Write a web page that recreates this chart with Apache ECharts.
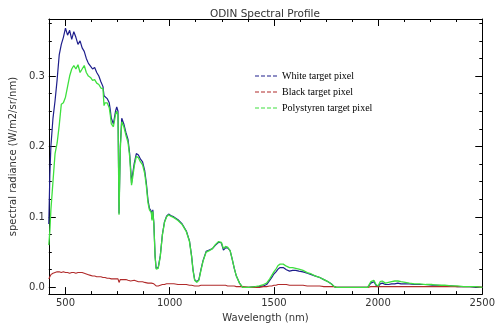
<!DOCTYPE html>
<html>
<head>
<meta charset="utf-8">
<script src="https://cdn.jsdelivr.net/npm/echarts@6/dist/echarts.min.js"></script>
<style>
html,body{margin:0;padding:0;background:#fff}
#chart{width:498px;height:328px}
</style>
</head>
<body>
<div id="chart"></div>
<script>
// wavelength grid (nm), shared by the three pixels
const wavelength = [
  420,425,430,440,450,460,470,480,490,500,510,520,530,540,550,560,570,580,590,600,
  610,620,630,640,650,660,670,680,685,690,700,710,715,720,730,740,746,752,
  757,763,770,780,790,800,808,813,817,822,830,840,850,860,870,880,888,896,903,912,915,919,924,930,935,
  945,955,965,975,985,995,1005,1020,1040,1060,1080,1095,1105,1112,1120,1130,
  1140,1150,1160,1175,1190,1205,1220,1235,1248,1258,1268,1278,1290,1300,1310,1320,1335,
  1350,1380,1410,1430,1450,1465,1480,1490,1500,1510,1520,1530,1545,1560,1575,1590,1605,1620,1640,1660,1680,1700,1720,1740,1760,1775,1790,1800,1810,
  1850,1900,1950,1965,1980,1990,2000,2010,2020,2035,2050,2065,2080,2095,2110,2130,2150,2175,2200,2230,2260,2290,2320,2350,2380,2410,2440,2470,2500
];
const whitePixel = [
  0.09,0.16,0.20,0.24,0.265,0.295,0.33,0.345,0.355,0.368,0.358,0.365,0.352,0.363,0.355,0.345,0.35,0.34,0.335,0.325,
  0.318,0.314,0.31,0.312,0.305,0.30,0.292,0.285,0.272,0.27,0.268,0.262,0.252,0.24,0.232,0.25,0.256,0.25,
  0.105,0.20,0.24,0.232,0.22,0.21,0.19,0.168,0.148,0.16,0.176,0.19,0.188,0.182,0.178,0.166,0.148,0.124,0.112,0.108,0.097,0.11,0.092,0.045,0.027,
  0.028,0.045,0.075,0.093,0.101,0.104,0.102,0.10,0.096,0.09,0.08,0.066,0.045,0.025,0.011,0.008,
  0.011,0.025,0.038,0.051,0.053,0.055,0.06,0.064,0.063,0.053,0.056,0.056,0.052,0.04,0.027,0.016,0.006,
  0,0,0.001,0.001,0.002,0.004,0.01,0.014,0.019,0.022,0.026,0.028,0.028,0.025,0.023,0.024,0.024,0.023,0.022,0.02,0.018,0.016,0.014,0.011,0.008,0.005,0.001,0,0,
  0,0,0,0.006,0.008,0.003,0.001,0.005,0.006,0.004,0.004,0.005,0.005,0.006,0.005,0.005,0.005,0.004,0.004,0.004,0.003,0.003,0.002,0.002,0.001,0.001,0.001,0,0
];
const blackPixel = [
  0.012,0.015,0.018,0.02,0.021,0.022,0.022,0.021,0.022,0.021,0.021,0.02,0.021,0.021,0.02,0.021,0.021,0.021,0.02,0.019,
  0.018,0.017,0.016,0.016,0.015,0.015,0.015,0.014,0.014,0.014,0.013,0.013,0.013,0.012,0.012,0.012,0.012,0.012,
  0.007,0.011,0.011,0.011,0.011,0.01,0.01,0.009,0.009,0.01,0.01,0.009,0.008,0.008,0.008,0.007,0.007,0.006,0.006,0.006,0.005,0.006,0.005,0.003,0.002,
  0.002,0.003,0.004,0.004,0.005,0.005,0.005,0.005,0.004,0.004,0.004,0.003,0.003,0.002,0.002,0.002,
  0.002,0.003,0.003,0.003,0.003,0.003,0.003,0.003,0.003,0.003,0.003,0.002,0.002,0.002,0.002,0.001,0.001,
  0.001,0,0,0,0.001,0.001,0.002,0.002,0.003,0.003,0.004,0.004,0.004,0.004,0.003,0.003,0.003,0.003,0.003,0.002,0.002,0.002,0.002,0.001,0.001,0.001,0.001,0,0,
  0,0,0,0.001,0.001,0.001,0.001,0.001,0.001,0.001,0.001,0.001,0.001,0.001,0.001,0.001,0.001,0.001,0.001,0.001,0.001,0.001,0.001,0.001,0.001,0.001,0.001,0.001,0
];
const polyPixel = [
  0.06,0.08,0.11,0.15,0.19,0.205,0.23,0.26,0.262,0.27,0.285,0.30,0.31,0.315,0.31,0.316,0.305,0.31,0.315,0.305,
  0.30,0.298,0.294,0.295,0.29,0.288,0.283,0.282,0.258,0.262,0.262,0.255,0.245,0.232,0.228,0.245,0.25,0.245,
  0.103,0.195,0.235,0.228,0.216,0.206,0.186,0.162,0.145,0.155,0.172,0.186,0.184,0.178,0.174,0.162,0.144,0.12,0.11,0.106,0.095,0.108,0.09,0.043,0.026,
  0.027,0.044,0.074,0.092,0.10,0.103,0.101,0.099,0.095,0.089,0.079,0.065,0.044,0.024,0.010,0.007,
  0.010,0.024,0.037,0.05,0.052,0.055,0.061,0.065,0.064,0.055,0.058,0.057,0.052,0.04,0.027,0.016,0.006,
  0,0,0.001,0.002,0.004,0.006,0.012,0.017,0.022,0.026,0.031,0.033,0.033,0.03,0.028,0.028,0.027,0.026,0.024,0.021,0.019,0.016,0.014,0.011,0.008,0.005,0.001,0,0,
  0,0,0,0.008,0.01,0.004,0.002,0.008,0.009,0.006,0.007,0.008,0.009,0.009,0.008,0.007,0.006,0.005,0.005,0.004,0.004,0.003,0.003,0.002,0.002,0.001,0.001,0.001,0
];

const xTicks = [500, 1000, 1500, 2000, 2500];
const xMinorTicks = [625, 750, 875, 1125, 1250, 1375, 1625, 1750, 1875, 2125, 2250, 2375];
const yTicks = [0, 0.1, 0.2, 0.3];
const yMinorTicks = [0.025, 0.05, 0.075, 0.125, 0.15, 0.175, 0.225, 0.25, 0.275, 0.325, 0.35, 0.375];

const pairs = (ys) => wavelength.map((w, i) => [w, ys[i]]);
const font = 'DejaVu Sans';
const dashIcon = 'path://M0,0h4v1h-4z M6,0h4v1h-4z M12,0h4v1h-4z M18,0h4v1h-4z';

function xAx(pos, ticks, len, withLabel, lineShown) {
  return {
    type: 'value', min: 420, max: 2500, position: pos,
    axisLine: {show: lineShown, onZero: false, lineStyle: {color: '#000', width: 1}},
    axisTick: {show: true, inside: true, length: len, customValues: ticks, lineStyle: {color: '#000'}},
    axisLabel: withLabel ? {customValues: ticks, color: '#333', fontSize: 10, fontFamily: font, margin: 4,
      formatter: (v) => String(v)} : {show: false},
    splitLine: {show: false}
  };
}
function yAx(pos, ticks, len, withLabel, lineShown) {
  return {
    type: 'value', min: -0.0096, max: 0.381, position: pos,
    axisLine: {show: lineShown, onZero: false, lineStyle: {color: '#000', width: 1}},
    axisTick: {show: true, inside: true, length: len, customValues: ticks, lineStyle: {color: '#000'}},
    axisLabel: withLabel ? {customValues: ticks, color: '#333', fontSize: 10, fontFamily: font, margin: 4,
      formatter: (v) => v.toFixed(1)} : {show: false},
    splitLine: {show: false}
  };
}

const xMain = xAx('bottom', xTicks, 7, true, true);
xMain.name = 'Wavelength (nm)';
xMain.nameLocation = 'middle';
xMain.nameGap = 16;
xMain.nameTextStyle = {color: '#333', fontSize: 10, fontFamily: font};

const yMain = yAx('left', yTicks, 7, true, true);
yMain.name = 'spectral radiance (W/m2/sr/nm)';
yMain.nameLocation = 'middle';
yMain.nameGap = 25;
yMain.nameTextStyle = {color: '#333', fontSize: 10, fontFamily: font};

const chart = echarts.init(document.getElementById('chart'));
chart.setOption({
  animation: false,
  backgroundColor: '#fff',
  title: {
    text: 'ODIN Spectral Profile', left: 205, top: 4,
    textStyle: {color: '#333', fontSize: 10.5, fontWeight: 'normal', fontFamily: font}
  },
  grid: {left: 46, right: 11, top: 19, bottom: 24},
  legend: {
    orient: 'vertical', left: 250, top: 63,
    icon: dashIcon, itemWidth: 22, itemHeight: 1.5, itemGap: 0,
    textStyle: {fontFamily: 'Liberation Serif', fontSize: 10, color: '#000', lineHeight: 16}
  },
  xAxis: [
    xMain,
    xAx('bottom', xMinorTicks, 3, false, false),
    xAx('top', xTicks, 7, false, true),
    xAx('top', xMinorTicks, 3, false, false)
  ],
  yAxis: [
    yMain,
    yAx('left', yMinorTicks, 3, false, false),
    yAx('right', yTicks, 7, false, true),
    yAx('right', yMinorTicks, 3, false, false)
  ],
  series: [
    {name: 'White target pixel', type: 'line', data: pairs(whitePixel), color: '#1e1e8c',
      showSymbol: false, lineStyle: {width: 1.2}, z: 2},
    {name: 'Black target pixel', type: 'line', data: pairs(blackPixel), color: '#b02a2a',
      showSymbol: false, lineStyle: {width: 1.1}, z: 3},
    {name: 'Polystyren target pixel', type: 'line', data: pairs(polyPixel), color: '#3ee03e',
      showSymbol: false, lineStyle: {width: 1.3}, z: 4}
  ]
});
</script>
</body>
</html>
